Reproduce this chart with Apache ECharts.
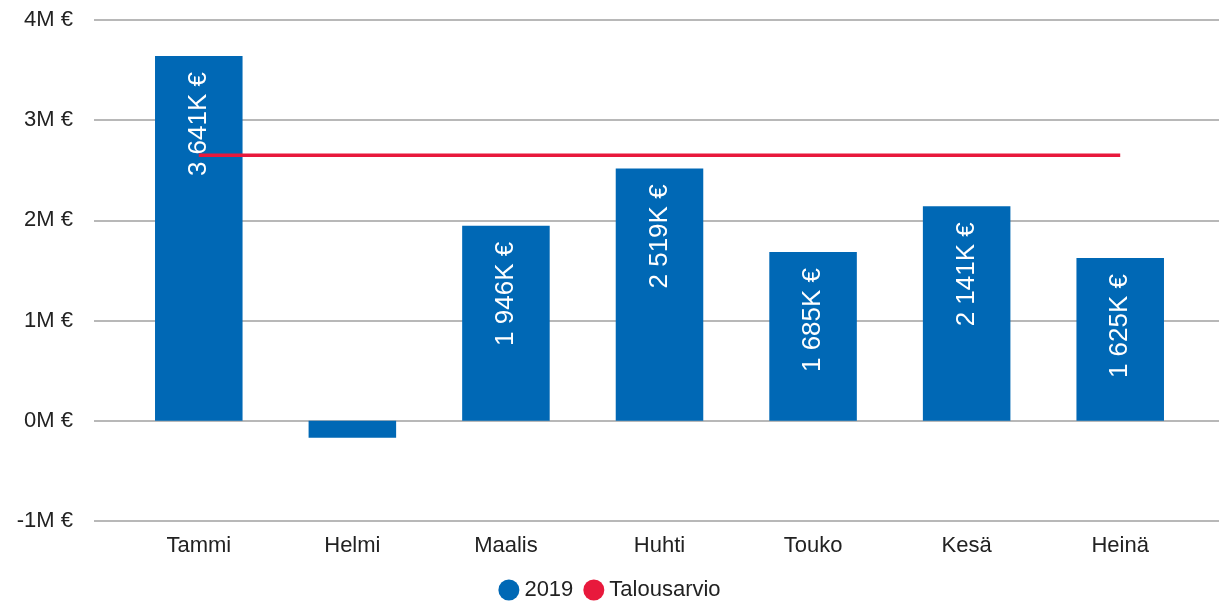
<!DOCTYPE html>
<html>
<head>
<meta charset="utf-8">
<script src="https://cdn.jsdelivr.net/npm/echarts@6/dist/echarts.min.js"></script>
<style>html,body{margin:0;padding:0;background:#fff}#c{width:1219px;height:607px}</style>
</head>
<body>
<div id="c"></div>
<script>
const categories = ['Tammi', 'Helmi', 'Maalis', 'Huhti', 'Touko', 'Kesä', 'Heinä'];
const actual2019 = [3641, -170, 1946, 2519, 1685, 2141, 1625]; // thousands €
const budget = [2650, 2650, 2650, 2650, 2650, 2650, 2650];    // thousands €
const yTicks = { min: -1000, max: 4000, interval: 1000 };

function fmtK(v) {
  return String(Math.round(v)).replace(/\B(?=(\d{3})+(?!\d))/g, ' ') + 'K €';
}

const chart = echarts.init(document.getElementById('c'));
const font = 'Liberation Sans, Arial, sans-serif';
chart.setOption({
  animation: false,
  textStyle: { fontFamily: font },
  legend: {
    bottom: 1, left: 'center', icon: 'circle', itemWidth: 21, itemHeight: 21, itemGap: 10,
    textStyle: { fontSize: 22, color: '#222', fontFamily: font },
    data: ['2019', 'Talousarvio']
  },
  grid: [
    { left: 94, right: 0, top: 20, bottom: 86 },
    { left: 122, right: 22, top: 20, bottom: 86 }
  ],
  xAxis: [
    { gridIndex: 0, type: 'value', show: false, min: 0, max: 1 },
    { gridIndex: 1, type: 'category', data: categories,
      axisLine: { show: false }, axisTick: { show: false },
      axisLabel: { fontSize: 22, color: '#222', margin: 14, fontFamily: font } }
  ],
  yAxis: [
    { gridIndex: 0, type: 'value', min: yTicks.min, max: yTicks.max, interval: yTicks.interval,
      axisLine: { show: false }, axisTick: { show: false },
      axisLabel: { fontSize: 22, color: '#222', margin: 21, fontFamily: font,
        formatter: v => (v / 1000) + 'M €' },
      splitLine: { lineStyle: { color: '#a0a0a0', width: 1.5 } } },
    { gridIndex: 1, type: 'value', min: yTicks.min, max: yTicks.max, interval: yTicks.interval, show: false,
      splitLine: { show: false } }
  ],
  series: [
    { name: '2019', type: 'bar', xAxisIndex: 1, yAxisIndex: 1, data: actual2019,
      barWidth: '57%', itemStyle: { color: '#0068b5' },
      label: { show: true, position: 'insideTop', rotate: 90, align: 'right', verticalAlign: 'middle',
        distance: 16, color: '#fff', fontSize: 26, fontFamily: font,
        formatter: p => p.value > 500 ? fmtK(p.value) : '' } },
    { name: 'Talousarvio', type: 'line', xAxisIndex: 1, yAxisIndex: 1, data: budget,
      symbol: 'none', lineStyle: { color: '#e8193c', width: 3.5 }, itemStyle: { color: '#e8193c' } }
  ]
});
</script>
</body>
</html>
